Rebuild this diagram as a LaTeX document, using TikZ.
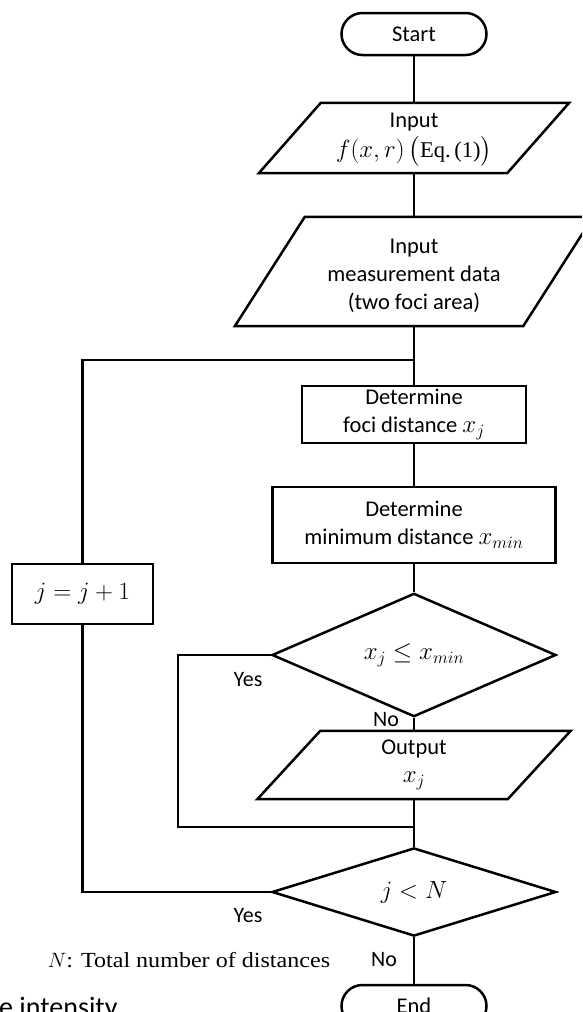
\documentclass[tikz,border=0pt]{standalone}
\usepackage{amsmath}
\usepackage[no-math]{fontspec}
\setmainfont{Carlito}
\newfontfamily\serifont[FakeStretch=1.12]{Liberation Serif}
\newfontfamily\eqfont{Liberation Serif}
\DeclareMathSizes{22.5}{23.5}{17}{13}
\usetikzlibrary{shapes.geometric,calc}
\tikzset{
  lw/.style={line width=2.5pt},
  txt/.style={font=\fontsize{22.5}{28}\selectfont, align=center, inner sep=0pt},
  lbl/.style={font=\fontsize{22}{26}\selectfont, inner sep=0pt},
  term/.style={txt, draw, lw, rounded corners=21pt, minimum width=145pt, minimum height=42pt},
  proc/.style={txt, draw, lw, rectangle},
  iobox/.style={txt, rectangle},
  ioline/.style={lw, line join=miter},
  dec/.style={txt, draw, lw, diamond, minimum width=284pt, minimum height=87pt},
  conn/.style={lw},
}
\begin{document}
\begin{tikzpicture}[x=1pt,y=-1pt]
\useasboundingbox (0,0) rectangle (582,1012);
\clip (0,0) rectangle (582,1012);

% nodes
\node[term] (start) at (414,34) {Start};

\node[iobox, minimum width=248pt, minimum height=70pt] (in1) at (414,138) {};
\node[txt] (in1t) at (414,140) {Input\\[2pt]$f(x,r)\,\bigl(\text{\eqfont Eq.\,(1)}\bigr)$};
\draw[ioline] ([xshift=31pt]in1.north west) -- ([xshift=31pt]in1.north east)
  -- ([xshift=-31pt]in1.south east) -- ([xshift=-31pt]in1.south west) -- cycle;

\node[iobox, minimum width=288pt, minimum height=109pt] (in2) at (414,271.5) {};
\node[txt] (in2t) at (414,276) {Input\\measurement data\\(two foci area)};
\draw[ioline] ([xshift=35pt]in2.north west) -- ([xshift=35pt]in2.north east)
  -- ([xshift=-35pt]in2.south east) -- ([xshift=-35pt]in2.south west) -- cycle;

\node[proc, minimum width=224pt, minimum height=57pt] (det1) at (414,414.5)
  {Determine\\foci distance $x_j$};
\node[proc, minimum width=283pt, minimum height=76pt] (det2) at (414,525)
  {Determine\\minimum distance $x_{min}$};

\node[proc, minimum width=141pt, minimum height=60pt] (jb) at (82.5,594) {$j = j + 1$};

\node[dec] (d1) at (414,655) {$x_j \le x_{min}$};

\node[iobox, minimum width=250pt, minimum height=68pt] (out) at (414,765)
  {Output\\$x_j$};
\draw[ioline] ([xshift=31.5pt]out.north west) -- ([xshift=31.5pt]out.north east)
  -- ([xshift=-31.5pt]out.south east) -- ([xshift=-31.5pt]out.south west) -- cycle;

\node[dec, minimum height=86pt] (d2) at (414,892) {$j < N$};

\node[term] (end) at (414,1006) {End};

% coordinates
\coordinate (j1) at (414,360);
\coordinate (j2) at (414,827);
\coordinate (y1) at (178,655);
\coordinate (y2) at (82.5,892);

% connectors
\draw[conn] (start) -- (in1);
\draw[conn] (in1) -- (in2);
\draw[conn] (in2) -- (det1);
\draw[conn] (det1) -- (det2);
\draw[conn] (det2) -- (d1);
\draw[conn] (d1) -- (out);
\draw[conn] (out) -- (d2);
\draw[conn] (d2) -- (end);
\draw[conn] (d1.west) -- (y1) |- (j2);
\draw[conn] (d2.west) -- (y2) -- (jb.south);
\draw[conn] (jb.north) |- (j1);

% labels
\node[lbl] (yes1) at (248,680) {Yes};
\node[lbl] (no1) at (386,720) {No};
\node[lbl] (yes2) at (248,916) {Yes};
\node[lbl] (no2) at (384,960) {No};
\node[font=\serifont\fontsize{21.5}{26}\selectfont, inner sep=0pt] (note) at (189,960)
  {$N$: Total number of distances};
\node[font=\fontsize{28}{32}\selectfont, inner sep=0pt, anchor=base west] (cap) at (-1,1016)
  {e intensity};
\end{tikzpicture}
\end{document}
